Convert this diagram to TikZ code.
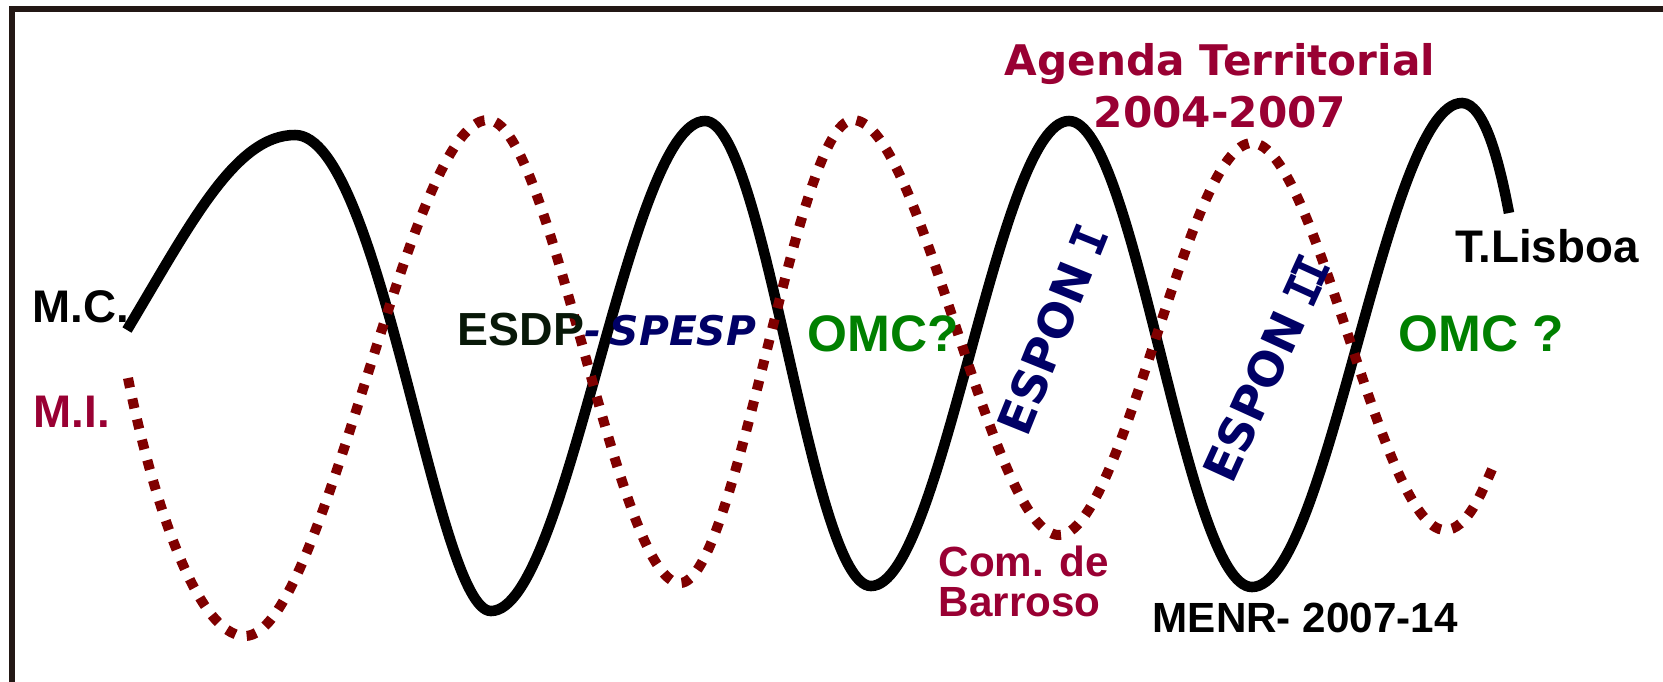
\documentclass[tikz,border=0pt]{standalone}
\usepackage{fontspec}
\setmainfont{Liberation Sans}
\newfontfamily\verdana{DejaVu Sans}
\newfontfamily\slabfont{DejaVu Sans Mono}
\definecolor{framebrown}{HTML}{231815}
\definecolor{dotred}{HTML}{800000}
\definecolor{crimson}{HTML}{990033}
\definecolor{navyblue}{HTML}{000066}
\definecolor{omcgreen}{HTML}{008000}
\definecolor{darkgreen}{HTML}{081808}
\newcommand{\romI}{{\slabfont\bfseries\kern-1pt I\kern-1pt}}

\begin{document}
\begin{tikzpicture}[x=0.01cm,y=-0.01cm,
    lbl/.style={inner sep=0pt,font=\bfseries\fontsize{13}{15}\selectfont},
    omc/.style={lbl,text=omcgreen,font=\bfseries\fontsize{14.6}{17}\selectfont},
    espon/.style={inner sep=0pt,text=navyblue,font=\verdana\bfseries\fontsize{13.4}{16}\selectfont},
    mcwave/.style={line width=3pt,black},
    miwave/.style={line width=2.85pt,dotred,dash pattern=on 2.8pt off 3.2pt}]
    \useasboundingbox (0,0) rectangle (1663,681);

    % frame
    \draw[framebrown,line width=1.7pt] (12,700) -- (12,9) -- (1680,9);

    % M.C. wave
    \draw[mcwave] (127,330) .. controls (190,225) and (235,135) .. (295,135)
        .. controls (381,135) and (436,611) .. (491,611)
        .. controls (568,611) and (628,121) .. (705,121)
        .. controls (765,121) and (811,586) .. (871,586)
        .. controls (942,586) and (998,121) .. (1069,121)
        .. controls (1135,121) and (1186,587) .. (1252,587)
        .. controls (1328,587) and (1386,103) .. (1462,103)
        .. controls (1484,103) and (1499,160) .. (1509,213);

    % M.I. wave
    \draw[miwave] (128,378) .. controls (150,488) and (195,636) .. (245,636)
        .. controls (325,636) and (408,120) .. (488,120)
        .. controls (551,120) and (617,583) .. (680,583)
        .. controls (737,583) and (796,120) .. (853,120)
        .. controls (921,120) and (991,535) .. (1059,535)
        .. controls (1123,535) and (1188,143) .. (1252,143)
        .. controls (1316,143) and (1381,530) .. (1445,530)
        .. controls (1467,530) and (1482,492) .. (1493,467);

    % labels
    \node[lbl,anchor=base west] (mc) at (32,322) {M.C.};
    \node[lbl,anchor=base west,text=crimson] (mi) at (33,427) {M.I.};
    \node[lbl,anchor=base west,text=darkgreen,font=\bfseries\fontsize{13.2}{15}\selectfont] (esdp) at (457,345)
        {ESDP\textcolor{navyblue}{\verdana\bfseries\itshape\fontsize{11.6}{14}\selectfont -\kern2.5pt SPESP}};
    \node[omc,anchor=base west] (omca) at (807,351) {OMC?};
    \node[omc,anchor=base west] (omcb) at (1398,351) {OMC ?};
    \node[lbl,anchor=base west] (lisboa) at (1455,262) {T.Lisboa};
    \node[lbl,anchor=base west,font=\bfseries\fontsize{12}{14}\selectfont] (menr) at (1152,632) {MENR- 2007-14};
    \node[lbl,anchor=north west,align=left,text=crimson,font=\bfseries\fontsize{12}{11.4}\selectfont] (barroso) at (938,545)
        {Com. de\\Barroso};
    \node[lbl,anchor=north,align=center,text=crimson,font=\verdana\bfseries\fontsize{12}{14.8}\selectfont] (agenda) at (1220,43)
        {Agenda Territorial\\2004-2007};

    % ESPON
    \node[espon,rotate=68] (esponA) at (1052,331) {ESPON \romI};
    \node[espon,rotate=65.5] (esponB) at (1266,370) {ESPON \romI\romI};
\end{tikzpicture}
\end{document}
